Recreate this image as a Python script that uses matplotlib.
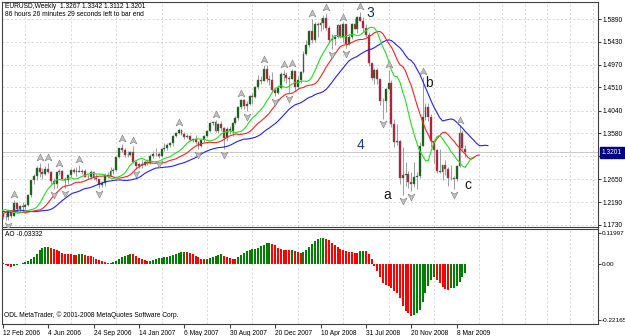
import matplotlib
matplotlib.use("Agg")
import matplotlib.pyplot as plt
from matplotlib.path import Path
import matplotlib.transforms as mtransforms
import numpy as np

plt.rcParams["font.family"] = ["Liberation Sans", "DejaVu Sans"]

# EURUSD weekly bars. First 36 rows (5 Jun 2005 .. 5 Feb 2006) only feed the indicators,
# bar 0 is the week of 12 Feb 2006, last bar is 29 Mar 2009 (still open).
N_WARMUP = 36

opens = [
    1.2290, 1.2170, 1.2140, 1.2080, 1.1960, 1.1920, 1.2020, 1.2140, 1.2130, 1.2350,
    1.2410, 1.2170, 1.2310, 1.2500, 1.2400, 1.2200, 1.2100, 1.2030, 1.2090, 1.2000,
    1.2050, 1.2040, 1.1930, 1.1730, 1.1750, 1.1790, 1.1700, 1.1830, 1.2000, 1.1870,
    1.1840, 1.2120, 1.2120, 1.2220, 1.2150, 1.2010,
    1.1950, 1.1900, 1.1890, 1.2020, 1.1920, 1.2170, 1.2050, 1.2110, 1.2090, 1.2140,
    1.2340, 1.2630, 1.2720, 1.2890, 1.2800, 1.2760, 1.2870, 1.2800, 1.2620, 1.2560,
    1.2790, 1.2810, 1.2650, 1.2630, 1.2740, 1.2850, 1.2800, 1.2830, 1.2790, 1.2820,
    1.2700, 1.2690, 1.2810, 1.2680, 1.2650, 1.2540, 1.2580, 1.2740, 1.2720, 1.2830,
    1.2840, 1.3100, 1.3290, 1.3250, 1.3140, 1.3150, 1.3200, 1.3000, 1.2930, 1.2960,
    1.2940, 1.3000, 1.2990, 1.3120, 1.3170, 1.3160, 1.3120, 1.3260, 1.3280, 1.3350,
    1.3380, 1.3530, 1.3580, 1.3640, 1.3570, 1.3500, 1.3530, 1.3450, 1.3460, 1.3400,
    1.3320, 1.3440, 1.3530, 1.3630, 1.3790, 1.3810, 1.3620, 1.3760, 1.3680, 1.3490,
    1.3660, 1.3630, 1.3780, 1.3890, 1.4110, 1.4260, 1.4140, 1.4180, 1.4330, 1.4320,
    1.4510, 1.4650, 1.4640, 1.4880, 1.4680, 1.4650, 1.4450, 1.4400, 1.4500, 1.4780,
    1.4760, 1.4690, 1.4680, 1.4830, 1.4510, 1.4660, 1.4820, 1.5190, 1.5370, 1.5650,
    1.5470, 1.5790, 1.5760, 1.5800, 1.5920, 1.5700, 1.5460, 1.5480, 1.5530, 1.5760,
    1.5530, 1.5780, 1.5390, 1.5520, 1.5790, 1.5680, 1.5930, 1.5860, 1.5700, 1.5570,
    1.5000, 1.4690, 1.4860, 1.4670, 1.4240, 1.4230, 1.4480, 1.4600, 1.3770, 1.3400,
    1.3430, 1.2680, 1.2740, 1.2750, 1.2590, 1.2560, 1.2690, 1.2710, 1.3330, 1.3920,
    1.4110, 1.3910, 1.3430, 1.3240, 1.2830, 1.2800, 1.2940, 1.2860, 1.2670, 1.2670,
    1.2650, 1.2920, 1.3580, 1.3267,
]
highs = [
    1.2380, 1.2260, 1.2280, 1.2190, 1.2000, 1.2160, 1.2150, 1.2160, 1.2390, 1.2440,
    1.2460, 1.2380, 1.2530, 1.2580, 1.2420, 1.2310, 1.2130, 1.2140, 1.2120, 1.2080,
    1.2170, 1.2100, 1.1950, 1.1800, 1.1830, 1.1810, 1.1850, 1.2090, 1.2050, 1.1930,
    1.2150, 1.2140, 1.2280, 1.2320, 1.2180, 1.2030,
    1.1960, 1.1980, 1.2050, 1.2040, 1.2240, 1.2200, 1.2140, 1.2200, 1.2170, 1.2360,
    1.2640, 1.2750, 1.2920, 1.2980, 1.2880, 1.2920, 1.2975, 1.2820, 1.2680, 1.2800,
    1.2860, 1.2840, 1.2690, 1.2740, 1.2860, 1.2890, 1.2900, 1.2940, 1.2860, 1.2870,
    1.2760, 1.2840, 1.2820, 1.2760, 1.2660, 1.2620, 1.2780, 1.2790, 1.2900, 1.2880,
    1.3110, 1.3290, 1.3370, 1.3290, 1.3230, 1.3220, 1.3330, 1.3020, 1.2980, 1.3050,
    1.3050, 1.3040, 1.3160, 1.3220, 1.3280, 1.3200, 1.3280, 1.3390, 1.3380, 1.3400,
    1.3540, 1.3610, 1.3680, 1.3660, 1.3600, 1.3570, 1.3550, 1.3480, 1.3550, 1.3420,
    1.3470, 1.3550, 1.3640, 1.3800, 1.3830, 1.3850, 1.3780, 1.3830, 1.3710, 1.3700,
    1.3730, 1.3800, 1.3930, 1.4140, 1.4280, 1.4275, 1.4230, 1.4350, 1.4400, 1.4530,
    1.4750, 1.4730, 1.4970, 1.4960, 1.4760, 1.4820, 1.4500, 1.4550, 1.4810, 1.4870,
    1.4830, 1.4740, 1.4880, 1.4850, 1.4740, 1.4840, 1.5240, 1.5460, 1.5660, 1.5900,
    1.5820, 1.5830, 1.5910, 1.5980, 1.6020, 1.5740, 1.5580, 1.5570, 1.5790, 1.5780,
    1.5820, 1.5790, 1.5580, 1.5800, 1.5920, 1.5950, 1.6040, 1.5940, 1.5780, 1.5630,
    1.5010, 1.4900, 1.4900, 1.4680, 1.4300, 1.4500, 1.4870, 1.4650, 1.3880, 1.3770,
    1.3450, 1.3300, 1.3010, 1.2830, 1.2800, 1.3000, 1.2800, 1.3400, 1.4720, 1.4190,
    1.4190, 1.3980, 1.3450, 1.3260, 1.3260, 1.2950, 1.3050, 1.2900, 1.2950, 1.2720,
    1.2950, 1.3740, 1.3640, 1.3342,
]
lows = [
    1.2140, 1.2035, 1.2050, 1.1950, 1.1870, 1.1900, 1.1970, 1.1960, 1.2120, 1.2310,
    1.2130, 1.2160, 1.2200, 1.2360, 1.2190, 1.2080, 1.2000, 1.1930, 1.1960, 1.1930,
    1.1980, 1.1880, 1.1700, 1.1640, 1.1700, 1.1650, 1.1680, 1.1800, 1.1800, 1.1810,
    1.1830, 1.1980, 1.2030, 1.2130, 1.1980, 1.1870,
    1.1860, 1.1840, 1.1830, 1.1880, 1.1910, 1.1980, 1.2000, 1.2040, 1.2020, 1.2120,
    1.2300, 1.2550, 1.2640, 1.2690, 1.2660, 1.2740, 1.2780, 1.2560, 1.2460, 1.2480,
    1.2740, 1.2640, 1.2470, 1.2550, 1.2700, 1.2780, 1.2710, 1.2790, 1.2760, 1.2700,
    1.2650, 1.2680, 1.2630, 1.2620, 1.2480, 1.2490, 1.2520, 1.2680, 1.2710, 1.2760,
    1.2820, 1.3080, 1.3210, 1.3100, 1.3110, 1.3120, 1.2980, 1.2870, 1.2890, 1.2880,
    1.2920, 1.2940, 1.2970, 1.3090, 1.3130, 1.3080, 1.3100, 1.3230, 1.3250, 1.3310,
    1.3330, 1.3510, 1.3570, 1.3540, 1.3460, 1.3480, 1.3430, 1.3410, 1.3370, 1.3260,
    1.3310, 1.3400, 1.3510, 1.3600, 1.3740, 1.3600, 1.3580, 1.3620, 1.3260, 1.3430,
    1.3570, 1.3530, 1.3770, 1.3850, 1.4070, 1.4080, 1.4030, 1.4160, 1.4180, 1.4290,
    1.4480, 1.4570, 1.4630, 1.4620, 1.4560, 1.4440, 1.4330, 1.4380, 1.4480, 1.4640,
    1.4600, 1.4400, 1.4670, 1.4440, 1.4480, 1.4600, 1.4790, 1.5170, 1.5320, 1.5410,
    1.5420, 1.5530, 1.5640, 1.5680, 1.5660, 1.5410, 1.5290, 1.5370, 1.5510, 1.5500,
    1.5430, 1.5300, 1.5370, 1.5480, 1.5680, 1.5610, 1.5850, 1.5630, 1.5530, 1.4950,
    1.4660, 1.4570, 1.4580, 1.4160, 1.3880, 1.4020, 1.4460, 1.3710, 1.3310, 1.3340,
    1.2560, 1.2330, 1.2520, 1.2470, 1.2420, 1.2500, 1.2450, 1.2680, 1.3320, 1.3850,
    1.3840, 1.3310, 1.2990, 1.2780, 1.2780, 1.2630, 1.2730, 1.2510, 1.2640, 1.2460,
    1.2620, 1.2900, 1.3250, 1.3112,
]
closes = [
    1.2170, 1.2140, 1.2080, 1.1960, 1.1920, 1.2020, 1.2140, 1.2130, 1.2350, 1.2410,
    1.2170, 1.2310, 1.2500, 1.2400, 1.2200, 1.2100, 1.2030, 1.2090, 1.2000, 1.2050,
    1.2040, 1.1930, 1.1730, 1.1750, 1.1790, 1.1700, 1.1830, 1.2000, 1.1870, 1.1840,
    1.2120, 1.2120, 1.2220, 1.2150, 1.2010, 1.1950,
    1.1900, 1.1890, 1.2020, 1.1920, 1.2170, 1.2050, 1.2110, 1.2090, 1.2140, 1.2340,
    1.2630, 1.2720, 1.2890, 1.2800, 1.2760, 1.2870, 1.2800, 1.2620, 1.2560, 1.2790,
    1.2810, 1.2650, 1.2630, 1.2740, 1.2850, 1.2800, 1.2830, 1.2790, 1.2820, 1.2700,
    1.2690, 1.2810, 1.2680, 1.2650, 1.2540, 1.2580, 1.2740, 1.2720, 1.2830, 1.2840,
    1.3100, 1.3290, 1.3250, 1.3140, 1.3150, 1.3200, 1.3000, 1.2930, 1.2960, 1.2940,
    1.3000, 1.2990, 1.3120, 1.3170, 1.3160, 1.3120, 1.3260, 1.3280, 1.3350, 1.3380,
    1.3530, 1.3580, 1.3640, 1.3570, 1.3500, 1.3530, 1.3450, 1.3460, 1.3400, 1.3320,
    1.3440, 1.3530, 1.3630, 1.3790, 1.3810, 1.3620, 1.3760, 1.3680, 1.3490, 1.3660,
    1.3630, 1.3780, 1.3890, 1.4110, 1.4260, 1.4140, 1.4180, 1.4330, 1.4320, 1.4510,
    1.4650, 1.4640, 1.4880, 1.4680, 1.4650, 1.4450, 1.4400, 1.4500, 1.4780, 1.4760,
    1.4690, 1.4680, 1.4830, 1.4510, 1.4660, 1.4820, 1.5190, 1.5370, 1.5650, 1.5470,
    1.5790, 1.5760, 1.5800, 1.5920, 1.5700, 1.5460, 1.5480, 1.5530, 1.5760, 1.5530,
    1.5780, 1.5390, 1.5520, 1.5790, 1.5680, 1.5930, 1.5860, 1.5700, 1.5570, 1.5000,
    1.4690, 1.4860, 1.4670, 1.4240, 1.4230, 1.4480, 1.4600, 1.3770, 1.3400, 1.3430,
    1.2680, 1.2740, 1.2750, 1.2590, 1.2560, 1.2690, 1.2710, 1.3330, 1.3920, 1.4110,
    1.3910, 1.3430, 1.3240, 1.2830, 1.2800, 1.2940, 1.2860, 1.2670, 1.2670, 1.2650,
    1.2920, 1.3580, 1.3290, 1.3201,
]

date_labels = ["12 Feb 2006", "4 Jun 2006", "24 Sep 2006", "14 Jan 2007", "6 May 2007",
               "30 Aug 2007", "20 Dec 2007", "10 Apr 2008", "31 Jul 2008", "20 Nov 2008",
               "8 Mar 2009"]
price_ticks = [1.5890, 1.5430, 1.4970, 1.4510, 1.4040, 1.3580, 1.3120, 1.2650, 1.2190, 1.1730]
ao_ticks = [0.11997, 0.0, -0.22165]
ao_tick_labels = ["0.11997", "0.00", "-0.22165"]
last_price = 1.3201

o = np.array(opens)
h = np.array(highs)
l = np.array(lows)
c = np.array(closes)
pos = np.arange(len(c)) - N_WARMUP
med = (h + l) / 2


def smma(x, n):
    out = np.full(len(x), np.nan)
    out[n - 1] = x[:n].mean()
    for k in range(n, len(x)):
        out[k] = (out[k - 1] * (n - 1) + x[k]) / n
    return out


def sma(x, n):
    out = np.full(len(x), np.nan)
    cs = np.cumsum(np.insert(x, 0, 0.0))
    out[n - 1:] = (cs[n:] - cs[:-n]) / n
    return out


jaw = smma(med, 13)
teeth = smma(med, 8)
lips = smma(med, 5)
ao = sma(med, 5) - sma(med, 34)

# fractals
up_fr, dn_fr = [], []
for k in range(2, len(c) - 2):
    if h[k] > max(h[k - 2], h[k - 1], h[k + 1], h[k + 2]):
        up_fr.append(k)
    if l[k] < min(l[k - 2], l[k - 1], l[k + 1], l[k + 2]):
        dn_fr.append(k)

W, H = 625, 336


def box(x0, y0, x1, y1):
    return [x0 / W, 1 - y1 / H, (x1 - x0) / W, (y1 - y0) / H]


fig = plt.figure(figsize=(W / 100, H / 100), dpi=100)
fig.patch.set_facecolor("white")
ax = fig.add_axes(box(2, 1.5, 598, 226.5))
ax2 = fig.add_axes(box(2, 228.5, 598, 323.5), sharex=ax)

grid_kw = dict(color="#C8C8C8", linestyle=(0, (3, 3)), linewidth=0.5)

# candles
vis = pos >= -1
bull = c >= o
ax.vlines(pos[vis], l[vis], h[vis], color="#A0A0A0", linewidth=0.75, zorder=3)
body_lo = np.minimum(o, c)
body_h = np.maximum(np.abs(c - o), 0.0008)
ax.bar(pos[vis & bull], body_h[vis & bull], bottom=body_lo[vis & bull], width=0.68,
       color="#006400", edgecolor="#707070", linewidth=0.3, zorder=4)
ax.bar(pos[vis & ~bull], body_h[vis & ~bull], bottom=body_lo[vis & ~bull], width=0.68,
       color="#C8102E", edgecolor="#707070", linewidth=0.3, zorder=4)

# alligator
ax.plot(pos + 8, jaw, color="#2020FF", lw=0.8, zorder=5)
ax.plot(pos + 5, teeth, color="#FF2020", lw=0.8, zorder=5)
ax.plot(pos + 3, lips, color="#20E020", lw=0.8, zorder=5)

# fractal arrows
up_arrow = Path([(0, 1), (1, -1), (0, -0.45), (-1, -1), (0, 1)],
                [Path.MOVETO, Path.LINETO, Path.LINETO, Path.LINETO, Path.CLOSEPOLY])
dn_arrow = Path([(0, -1), (1, 1), (0, 0.45), (-1, 1), (0, -1)],
                [Path.MOVETO, Path.LINETO, Path.LINETO, Path.LINETO, Path.CLOSEPOLY])
ax.plot(pos[up_fr], h[up_fr] + 0.012, linestyle="none", marker=up_arrow, markersize=5,
        markerfacecolor="#C0C0C0", markeredgecolor="#808080", markeredgewidth=0.4, zorder=6)
ax.plot(pos[dn_fr], l[dn_fr] - 0.012, linestyle="none", marker=dn_arrow, markersize=5,
        markerfacecolor="#C0C0C0", markeredgecolor="#808080", markeredgewidth=0.4, zorder=6)

# bid line and price box
ax.axhline(last_price, color="#C0C0C0", lw=0.6, zorder=1)
trans = mtransforms.blended_transform_factory(ax.transAxes, ax.transData)
ax.text(1.006, last_price, f"{last_price:.4f}", transform=trans, color="white",
        fontsize=4.8, ha="left", va="center", clip_on=False, zorder=10,
        bbox=dict(boxstyle="square,pad=0.3", fc="#000080", ec="#000080"))

# wave counts
ax.text(129.4, 1.6011, "3", fontsize=10, color="#1C2E5C", ha="center", va="center", zorder=7)
ax.text(126.0, 1.3337, "4", fontsize=10, color="#1F3A8A", ha="center", va="center", zorder=7)
ax.text(135.4, 1.2334, "a", fontsize=10, color="#1A1A1A", ha="center", va="center", zorder=7)
ax.text(150.2, 1.4598, "b", fontsize=10, color="#1A1A1A", ha="center", va="center", zorder=7)
ax.text(164.0, 1.2537, "c", fontsize=10, color="#1A1A1A", ha="center", va="center", zorder=7)

ax.set_ylim(1.1699, 1.6244)
ax.set_xlim(-0.25, 209.8)
ax.yaxis.tick_right()
ax.set_yticks(price_ticks)
ax.set_yticklabels([f"{p:.4f}" for p in price_ticks])
ax.tick_params(axis="y", length=2, pad=1.5, labelsize=4.8, color="#404040")
ax.tick_params(axis="x", which="both", length=0, labelbottom=False)
ax.set_xticks(range(0, 161, 16))
ax.set_xticks(range(0, 210, 8), minor=True)
ax.grid(axis="y", **grid_kw)
ax.grid(axis="x", which="minor", **grid_kw)

# awesome oscillator
ao_col = ["#008000" if k > 0 and ao[k] > ao[k - 1] else "#FF0000" for k in range(len(ao))]
ax2.bar(pos[vis], ao[vis], width=0.7, color=np.array(ao_col)[vis], linewidth=0, zorder=3)
ax2.set_ylim(-0.2375, 0.1398)
ax2.yaxis.tick_right()
ax2.set_yticks(ao_ticks)
ax2.set_yticklabels(ao_tick_labels)
ax2.tick_params(axis="y", length=2, pad=0.8, labelsize=4.6, color="#404040")
ax2.set_xticks(range(0, 161, 16))
ax2.set_xticklabels(date_labels)
ax2.set_xticks(range(0, 210, 8), minor=True)
ax2.tick_params(axis="x", which="major", length=3, pad=1.5, labelsize=4.8, color="#404040")
ax2.tick_params(axis="x", which="minor", length=0)
for t in ax2.get_xticklabels():
    t.set_horizontalalignment("left")
ax2.grid(axis="x", which="minor", **grid_kw)

for a in (ax, ax2):
    for s in a.spines.values():
        s.set_color("#404040")
        s.set_linewidth(0.8)

fig.text(5 / W, 1 - 6.5 / H, "EURUSD,Weekly  1.3267 1.3342 1.3112 1.3201", fontsize=4.8,
         va="center", ha="left")
fig.text(5 / W, 1 - 14.5 / H, "86 hours 26 minutes 29 seconds left to bar end", fontsize=4.8,
         va="center", ha="left")
fig.text(5 / W, 1 - 235 / H, "AO -0.03332", fontsize=4.8, va="center", ha="left")
fig.text(4 / W, 1 - 315 / H, "ODL MetaTrader, \u00a9 2001-2008 MetaQuotes Software Corp.",
         fontsize=4.8, va="center", ha="left")

fig.savefig("out.png", dpi=100)
